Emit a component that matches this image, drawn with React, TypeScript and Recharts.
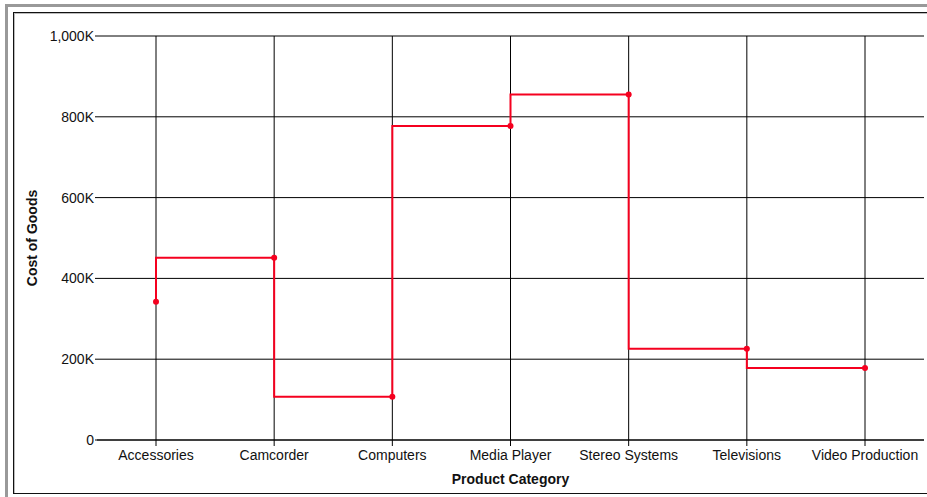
import { LineChart, Line, XAxis, YAxis, CartesianGrid } from "recharts";

const categories = ["Accessories", "Camcorder", "Computers", "Media Player", "Stereo Systems", "Televisions", "Video Production"];
const costOfGoods = [342000, 451000, 107000, 777000, 855000, 226000, 178000];
const yTicks = [0, 200000, 400000, 600000, 800000, 1000000];

const data = categories.map((c, i) => ({ category: c, cost: costOfGoods[i] }));

const font = '"Liberation Sans", Arial, sans-serif';

const fmt = (v: number) => (v === 0 ? "0" : (v / 1000).toLocaleString("en-US") + "K");

export default function App() {
  return (
    <div style={{ position: "absolute", left: 0, top: 0, width: 927, height: 497, overflow: "hidden", background: "#fff", fontFamily: font }}>
      <div style={{ position: "absolute", left: 5, top: 4, width: 1000, height: 1000, border: "3px solid #999" }} />
      <div style={{ position: "absolute", left: 13, top: 12, width: 1000, height: 480, border: "1px solid #111", boxShadow: "inset 1px 1px 0 #bbb" }} />
      <div style={{ position: "absolute", left: 0, top: 0 }}>
        <LineChart width={927} height={497} data={data} margin={{ top: 36, right: 3, bottom: 12, left: 17 }}>
          <CartesianGrid stroke="#000" strokeWidth={1} syncWithTicks />
          <XAxis
            dataKey="category"
            stroke="#000"
            height={45}
            padding={{ left: 59, right: 59 }}
            tickSize={6}
            tickMargin={4}
            interval={0}
            tick={{ fill: "#111", fontSize: 14, fontFamily: font }}
            label={{ value: "Product Category", position: "insideBottom", offset: 1, style: { fontWeight: "bold", fontSize: 14, fill: "#111", fontFamily: font } }}
          />
          <YAxis
            domain={[0, 1000000]}
            ticks={yTicks}
            tickFormatter={fmt}
            width={80}
            axisLine={false}
            stroke="#000"
            tickSize={2}
            tickMargin={1}
            tick={{ fill: "#111", fontSize: 14, fontFamily: font }}
            label={{ value: "Cost of Goods", angle: -90, position: "insideLeft", offset: 15, style: { textAnchor: "middle", fontWeight: "bold", fontSize: 14, fill: "#111", fontFamily: font } }}
          />
          <Line
            type="stepBefore"
            dataKey="cost"
            stroke="#f5001f"
            strokeWidth={2}
            dot={{ r: 3, fill: "#f5001f", stroke: "none" }}
            activeDot={false}
            isAnimationActive={false}
          />
        </LineChart>
      </div>
    </div>
  );
}
